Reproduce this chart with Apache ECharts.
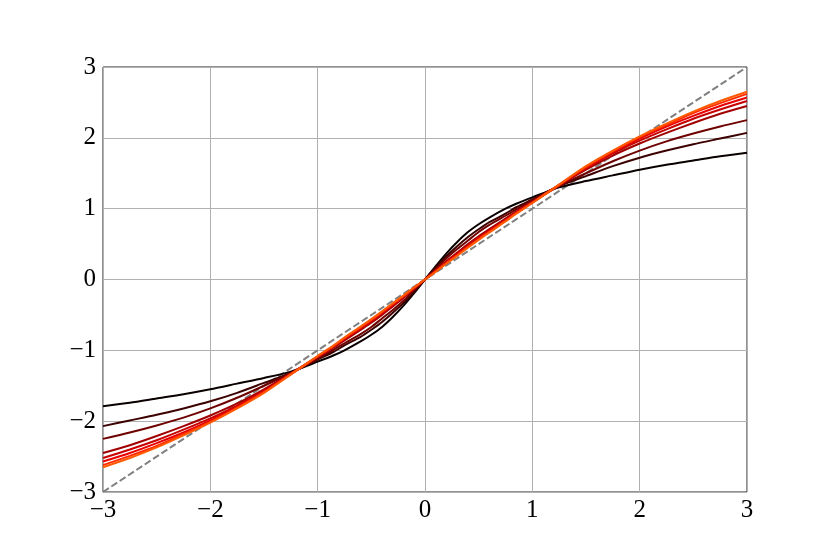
<!DOCTYPE html>
<html>
<head>
<meta charset="utf-8">
<script src="https://cdn.jsdelivr.net/npm/echarts@6/dist/echarts.min.js"></script>
<style>
html,body{margin:0;padding:0;background:#fff;}
#chart{width:830px;height:554px;}
</style>
</head>
<body>
<div id="chart"></div>
<script>
// x sample positions
const xs = [-3,-2.75,-2.5,-2.25,-2,-1.75,-1.5,-1.25,-1,-0.85,-0.75,-0.6,-0.5,-0.4,-0.3,-0.2,-0.1,0,0.1,0.2,0.3,0.4,0.5,0.6,0.75,0.85,1,1.25,1.5,1.75,2,2.25,2.5,2.75,3];
// curve values, darkest (black) to lightest (orange)
const curve1 = [-1.79,-1.74,-1.68,-1.62,-1.55,-1.47,-1.39,-1.30,-1.16,-1.07,-1.0,-0.875,-0.78,-0.67,-0.53,-0.37,-0.19,0,0.19,0.37,0.53,0.67,0.78,0.875,1.0,1.07,1.16,1.30,1.39,1.47,1.55,1.62,1.68,1.74,1.79];
const curve2 = [-2.07,-1.99,-1.91,-1.82,-1.72,-1.60,-1.46,-1.32,-1.13,-1.02,-0.93,-0.81,-0.71,-0.60,-0.47,-0.33,-0.17,0,0.17,0.33,0.47,0.60,0.71,0.81,0.93,1.02,1.13,1.32,1.46,1.60,1.72,1.82,1.91,1.99,2.07];
const curve3 = [-2.25,-2.16,-2.06,-1.95,-1.82,-1.67,-1.50,-1.32,-1.12,-0.99,-0.90,-0.77,-0.67,-0.55,-0.43,-0.30,-0.15,0,0.15,0.30,0.43,0.55,0.67,0.77,0.90,0.99,1.12,1.32,1.50,1.67,1.82,1.95,2.06,2.16,2.25];
const curve4 = [-2.45,-2.34,-2.21,-2.07,-1.92,-1.75,-1.55,-1.33,-1.10,-0.96,-0.86,-0.71,-0.61,-0.50,-0.38,-0.26,-0.13,0,0.13,0.26,0.38,0.50,0.61,0.71,0.86,0.96,1.10,1.33,1.55,1.75,1.92,2.07,2.21,2.34,2.45];
const curve5 = [-2.52,-2.40,-2.27,-2.12,-1.96,-1.78,-1.57,-1.33,-1.09,-0.948,-0.844,-0.695,-0.592,-0.481,-0.364,-0.247,-0.123,0,0.123,0.247,0.364,0.481,0.592,0.695,0.844,0.948,1.09,1.33,1.57,1.78,1.96,2.12,2.27,2.40,2.52];
const curve6 = [-2.57,-2.45,-2.31,-2.16,-1.99,-1.80,-1.58,-1.335,-1.087,-0.942,-0.835,-0.684,-0.581,-0.47,-0.353,-0.239,-0.118,0,0.118,0.239,0.353,0.47,0.581,0.684,0.835,0.942,1.087,1.335,1.58,1.80,1.99,2.16,2.31,2.45,2.57];
const curve7 = [-2.62,-2.49,-2.35,-2.18,-2.01,-1.81,-1.59,-1.34,-1.083,-0.935,-0.826,-0.672,-0.568,-0.458,-0.342,-0.23,-0.113,0,0.113,0.23,0.342,0.458,0.568,0.672,0.826,0.935,1.083,1.34,1.59,1.81,2.01,2.18,2.35,2.49,2.62];
const curve8 = [-2.65,-2.52,-2.37,-2.20,-2.02,-1.82,-1.60,-1.34,-1.08,-0.93,-0.82,-0.665,-0.56,-0.45,-0.335,-0.225,-0.11,0,0.11,0.225,0.335,0.45,0.56,0.665,0.82,0.93,1.08,1.34,1.60,1.82,2.02,2.20,2.37,2.52,2.65];
const curves = [curve1,curve2,curve3,curve4,curve5,curve6,curve7,curve8];
const colors = ['#0a0000','#3c0000','#6e0000','#a00000','#c80000','#e80000','#ff2a00','#ff5a00'];
// identity reference line
const refX = [-3,3];
const refY = [-3,3];

const fmt = v => (v < 0 ? '\u2212' + Math.abs(v) : String(v));
const font = {fontFamily:'Liberation Serif, DejaVu Serif, serif', fontSize:25, color:'#000'};

const series = [{
  type:'line', data: refX.map((x,i)=>[x,refY[i]]), showSymbol:false, silent:true,
  lineStyle:{color:'#808080', width:2, type:[7,3]}, z:1
}];
curves.forEach((c,k)=>{
  series.push({
    type:'line', data: xs.map((x,i)=>[x,c[i]]), showSymbol:false, smooth:0.25,
    lineStyle:{color:colors[k], width:2}, z:2+k
  });
});

const chart = echarts.init(document.getElementById('chart'), null, {renderer:'canvas'});
chart.setOption({
  animation:false,
  backgroundColor:'#fff',
  grid:{left:103, right:83, top:67, bottom:62, show:true, borderColor:'#222', borderWidth:1, backgroundColor:'transparent'},
  xAxis:{type:'value', min:-3, max:3, interval:1,
    axisLine:{show:false}, axisTick:{show:false},
    axisLabel:Object.assign({formatter:fmt, margin:6}, font),
    splitLine:{show:true, lineStyle:{color:'#b0b0b0', width:1}}},
  yAxis:{type:'value', min:-3, max:3, interval:1,
    axisLine:{show:false}, axisTick:{show:false},
    axisLabel:Object.assign({formatter:fmt, margin:7}, font),
    splitLine:{show:true, lineStyle:{color:'#b0b0b0', width:1}}},
  series: series
});
</script>
</body>
</html>
